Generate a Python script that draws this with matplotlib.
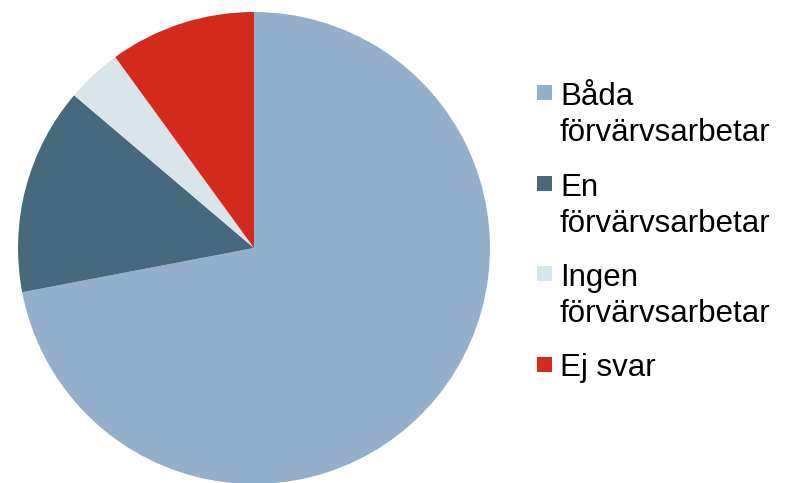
import matplotlib
matplotlib.use("Agg")
import matplotlib.pyplot as plt
from matplotlib.patches import Rectangle

plt.rcParams["font.family"] = ["Liberation Sans", "DejaVu Sans"]

# andel hushåll (%)
LABELS = ["Båda\nförvärvsarbetar", "En\nförvärvsarbetar", "Ingen\nförvärvsarbetar", "Ej svar"]
SHARES = [72.0, 14.2, 3.8, 10.0]
COLORS = ["#93AFCB", "#46697E", "#DAE5EB", "#D42A1E"]

W, H = 785, 483
fig = plt.figure(figsize=(W / 100, H / 100), dpi=100)

# pie: centre (254, 248) px, radius 236 px
cx, cy, r = 254, 248, 236
ax = fig.add_axes([(cx - r) / W, (H - cy - r) / H, 2 * r / W, 2 * r / H])
ax.pie(SHARES, colors=COLORS, startangle=90, counterclock=False, radius=1.0,
       wedgeprops=dict(linewidth=0))
ax.set_xlim(-1, 1)
ax.set_ylim(-1, 1)
ax.set_aspect("auto")
ax.axis("off")

# manual legend, first-line baselines in px
baselines = [104, 195, 285, 376]
line_px = 37
for lab, col, yb in zip(LABELS, COLORS, baselines):
    fig.patches.append(Rectangle((537 / W, (H - yb + 4) / H), 15 / W, 15 / H,
                                 transform=fig.transFigure, facecolor=col,
                                 edgecolor="none"))
    # va="baseline" pins the last line, so shift down for two-line labels
    y_last = yb + line_px * lab.count("\n")
    fig.text(560 / W, (H - y_last) / H, lab, fontsize=22.5, va="baseline", ha="left",
             color="black", linespacing=1.27)

fig.savefig("out.png", dpi=100)
